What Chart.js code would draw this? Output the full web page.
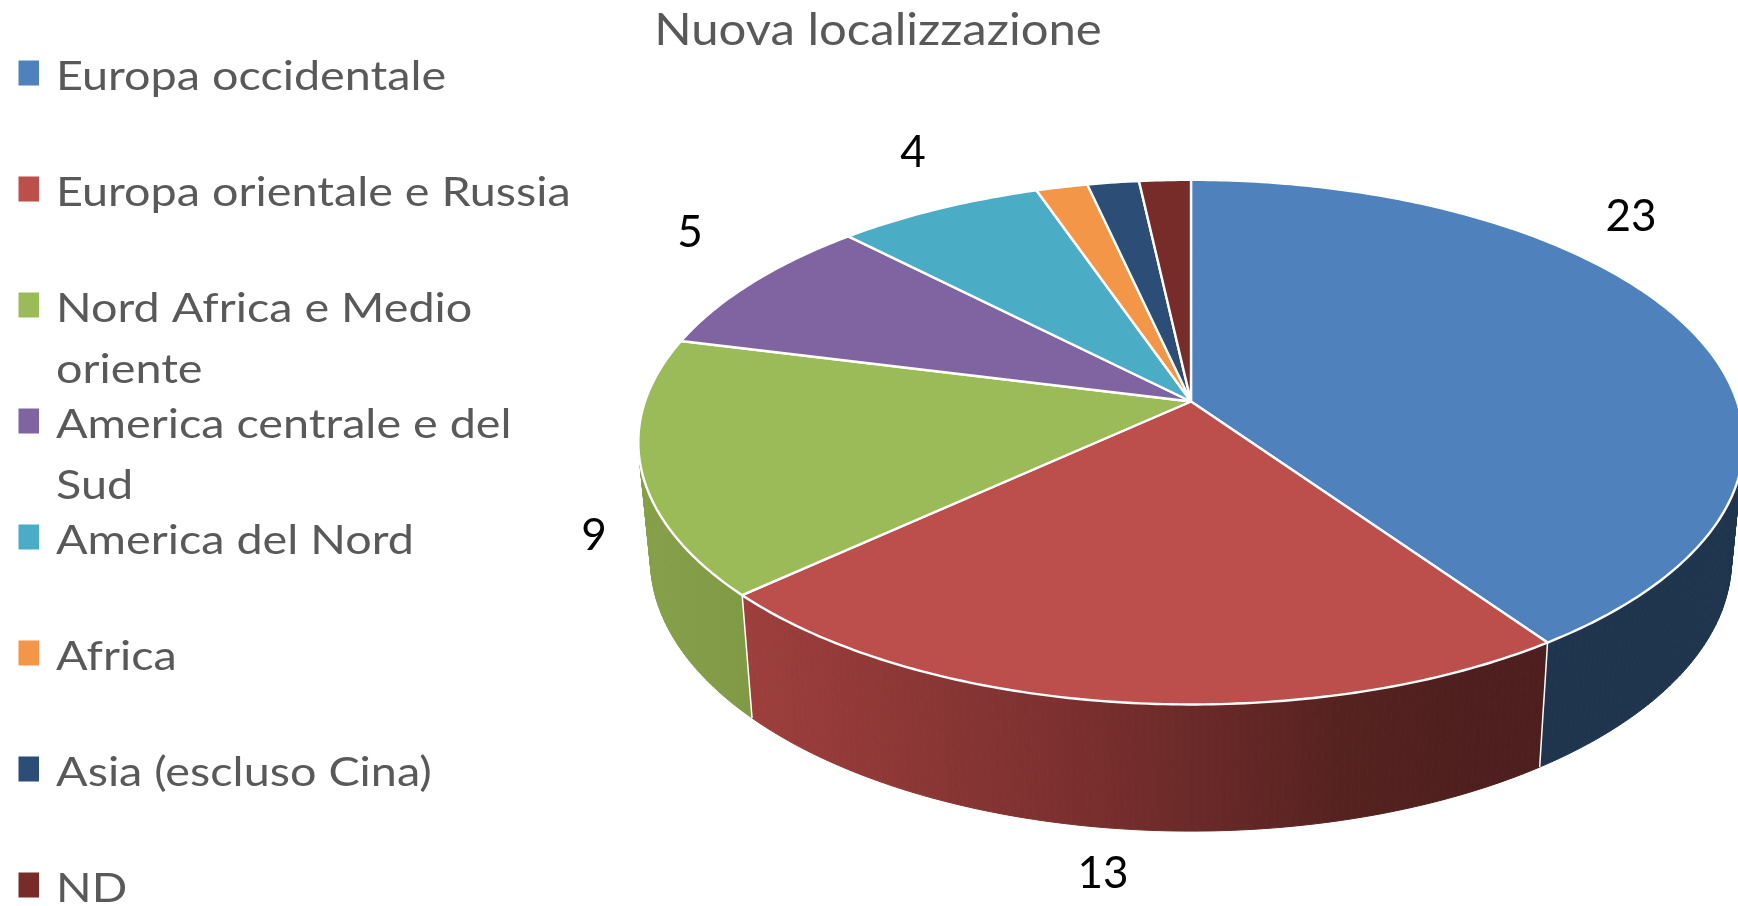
<!DOCTYPE html>
<html><head><meta charset="utf-8">
<style>html,body{margin:0;padding:0;background:#fff}#w{width:1738px;height:906px}canvas{display:block}</style>
<script src="https://cdn.jsdelivr.net/npm/chart.js@4"></script></head>
<body><div id="w"><canvas id="c"></canvas></div>
<script>
const categories = ['Europa occidentale','Europa orientale e Russia',['Nord Africa e Medio','oriente'],['America centrale e del','Sud'],'America del Nord','Africa','Asia (escluso Cina)','ND'];
const values = [23,13,9,5,4,1,1,1];
const labelled = [true,true,true,true,true,false,false,false];
const colors = ['#4F81BD','#BC4F4C','#9BBB59','#8064A2','#4BACC6','#F49647','#2C4D75','#772C2A'];

const FONT = 'Lato, "Open Sans", sans-serif';
const TITLE_H = 56;
const TITLE_CX = 878, TITLE_STRETCH = 1.115;
// perspective of the pie (px): top face and lower rim
const P = {R:546, S:256, k:0.155, R2:534, S2:265, d:116};
const wallShade = {
  0:[[0,'#1F344D'],[1,'#1F344D']],
  1:[[0,'#9E3F3D'],[0.45,'#772E2D'],[0.75,'#552220'],[0.9,'#4E1F1E'],[1,'#4E1F1E']],
  2:[[0,'#86A04A'],[1,'#7F9945']]
};
const legendCfg = {boxX:18.5, boxW:20.5, boxH:25, textX:56, firstBase:90, step:116, lineH:61, fontSize:41, stretch:1.14};
const dataLabelPos = [[1631,217],[1103,874],[594,536],[690,233],[913,153]];

function project(el, a, lower){
  const u=Math.cos(a), v=Math.sin(a), w=1-P.k*v;
  if(lower) return [el.x+P.R2*u/w, el.y+P.d+P.S2*v/w];
  return [el.x+P.R*u/w, el.y+P.S*v/w];
}
function angles(from,to){
  const n=Math.max(8,Math.ceil(Math.abs(to-from)*80)), out=[];
  for(let i=0;i<=n;i++) out.push(from+(to-from)*i/n);
  return out;
}
const pie3d = {
  id:'pie3d',
  afterLayout(chart){
    const t=chart.titleBlock;
    if(t){
      t.left=0;t.right=2*TITLE_CX;
      if(!t._wrapped){
        t._wrapped=true;
        const d=t.draw.bind(t);
        t.draw=function(){
          const c=chart.ctx;
          c.save();c.translate(TITLE_CX,0);c.scale(TITLE_STRETCH,1);c.translate(-TITLE_CX,0);
          d();c.restore();
        };
      }
    }
  },
  beforeDatasetsDraw(chart){
    const ctx=chart.ctx, arcs=chart.getDatasetMeta(0).data;
    ctx.save();
    ctx.lineJoin='round';
    // walls: ruled strips between upper and lower rim
    arcs.forEach((el,i)=>{
      if(!wallShade[i]) return;
      const s=el.startAngle, e=el.endAngle, as=angles(s,e);
      const top=as.map(a=>project(el,a,false)), bot=as.map(a=>project(el,a,true));
      const xs=top.concat(bot).map(p=>p[0]);
      const g=ctx.createLinearGradient(Math.min(...xs),0,Math.max(...xs),0);
      wallShade[i].forEach(st=>g.addColorStop(st[0],st[1]));
      ctx.fillStyle=g; ctx.strokeStyle=g; ctx.lineWidth=1;
      for(let j=0;j<as.length-1;j++){
        ctx.beginPath();
        ctx.moveTo(top[j][0],top[j][1]);ctx.lineTo(top[j+1][0],top[j+1][1]);
        ctx.lineTo(bot[j+1][0],bot[j+1][1]);ctx.lineTo(bot[j][0],bot[j][1]);
        ctx.closePath();ctx.fill();ctx.stroke();
      }
    });
    // white seams where two visible walls meet
    ctx.strokeStyle='#fff'; ctx.lineWidth=1.5;
    arcs.forEach((el,i)=>{
      if(!wallShade[i] || !wallShade[i+1]) return;
      const a=el.endAngle, p=project(el,a,false), q=project(el,a,true);
      ctx.beginPath();ctx.moveTo(p[0],p[1]);ctx.lineTo(q[0],q[1]);ctx.stroke();
    });
    // top face
    arcs.forEach((el,i)=>{
      ctx.beginPath();
      ctx.moveTo(el.x,el.y);
      angles(el.startAngle,el.endAngle).forEach(a=>{const p=project(el,a,false);ctx.lineTo(p[0],p[1]);});
      ctx.closePath();
      ctx.fillStyle=colors[i]; ctx.fill();
      ctx.strokeStyle='#fff'; ctx.lineWidth=2.4; ctx.stroke();
    });
    ctx.restore();
    return false;
  },
  afterDraw(chart){
    const ctx=chart.ctx, c=legendCfg;
    ctx.save();
    ctx.textBaseline='alphabetic'; ctx.textAlign='left';
    ctx.font=`${c.fontSize}px ${FONT}`;
    chart.data.labels.forEach((lab,i)=>{
      const base=c.firstBase+i*c.step;
      ctx.fillStyle=colors[i];
      ctx.fillRect(c.boxX,base-17-c.boxH/2,c.boxW,c.boxH);
      ctx.fillStyle='#595959';
      [].concat(lab).forEach((t,j)=>{
        ctx.save();
        ctx.translate(c.textX,base+j*c.lineH);ctx.scale(c.stretch,1);
        ctx.fillText(t,0,0);
        ctx.restore();
      });
    });
    ctx.fillStyle='#000'; ctx.textAlign='center'; ctx.textBaseline='middle';
    ctx.font=`44px ${FONT}`;
    let n=0;
    chart.data.datasets[0].data.forEach((v,i)=>{
      if(labelled[i]){ const p=dataLabelPos[n++]; ctx.fillText(String(v),p[0],p[1]); }
    });
    ctx.restore();
  }
};
new Chart(document.getElementById('c'),{
  type:'pie',
  data:{labels:categories,datasets:[{data:values,backgroundColor:colors,borderColor:'#fff',borderWidth:2}]},
  plugins:[pie3d],
  options:{
    responsive:true,maintainAspectRatio:false,animation:false,
    layout:{padding:{left:644,right:0,top:0,bottom:103+TITLE_H}},
    plugins:{
      legend:{display:false},tooltip:{enabled:false},
      title:{display:true,text:'Nuova localizzazione',color:'#595959',
        font:{family:FONT,size:44,weight:'normal',lineHeight:1.2},padding:{top:4,bottom:TITLE_H-4-52.8}}
    }
  }
});
</script></body></html>
